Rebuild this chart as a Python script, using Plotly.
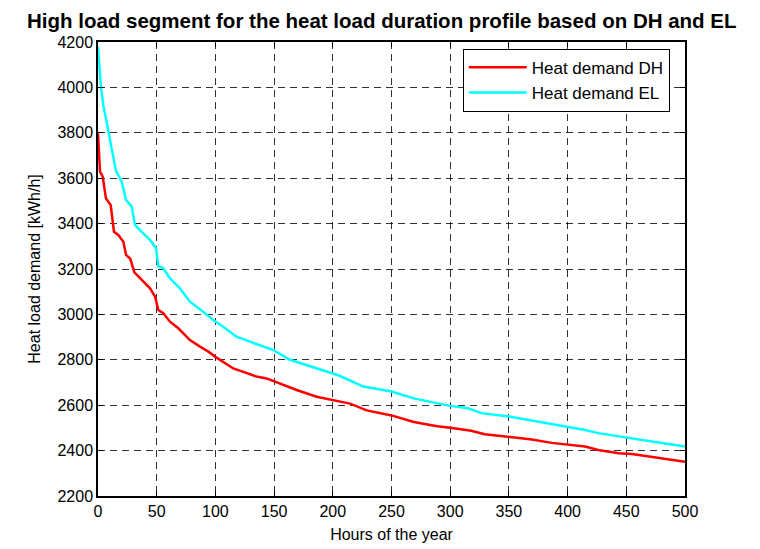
import plotly.graph_objects as go

# Heat demand DH (red)
dh_hours = [0, 1.7, 4, 6.8, 10.8, 13.6, 17.3, 21.6, 23.9, 27.5, 31, 36, 40, 44.3, 48.6, 51.4, 55.6, 61.3,
            68.4, 78.3, 86.9, 94, 99.7, 106.7, 115.2, 123.7, 135, 143.6, 157.8, 169.2, 186.2, 197.6,
            214.7, 228.9, 250, 269, 289, 300, 317.9, 329.3, 350, 369.5, 386.5, 400, 414.8, 426.2,
            443.3, 454.8, 471.7, 500]
dh_values = [3798, 3629, 3607, 3511, 3482, 3364, 3350, 3320, 3262, 3245, 3185, 3160, 3137, 3115, 3078, 3019, 3005, 2968,
             2939, 2887, 2858, 2836, 2814, 2792, 2762, 2747, 2726, 2718, 2689, 2667, 2637, 2625,
             2607, 2577, 2555, 2526, 2507, 2501, 2487, 2472, 2460, 2449, 2434, 2427, 2418, 2403,
             2388, 2385, 2373, 2351]

# Heat demand EL (cyan)
el_hours = [0, 2.5, 4.5, 8.8, 11.6, 15.3, 20.2, 23.9, 28.7, 31.5, 37.2, 44.3, 49.4, 51.4, 55.6, 61.3,
            69.8, 78.3, 89.6, 98.1, 106.6, 118, 129.4, 140.8, 149.3, 163.5, 177.7, 191.9, 204.7,
            226, 250, 269, 300, 315, 326.5, 350, 375, 400, 414.8, 426.2, 443.3, 449.8, 471.7, 500]
el_values = [4180, 4003, 3923, 3805, 3732, 3632, 3585, 3504, 3475, 3394, 3364, 3328, 3291, 3212, 3203, 3159,
             3115, 3056, 3012, 2975, 2946, 2902, 2880, 2858, 2843, 2800, 2777, 2755, 2732,
             2682, 2660, 2630, 2597, 2587, 2565, 2550, 2528, 2506, 2491, 2477, 2462, 2459, 2440, 2418]

x_ticks = [0, 50, 100, 150, 200, 250, 300, 350, 400, 450, 500]
y_ticks = [2200, 2400, 2600, 2800, 3000, 3200, 3400, 3600, 3800, 4000, 4200]

FONT = "Liberation Sans, Arial, sans-serif"

fig = go.Figure()
fig.add_trace(go.Scatter(x=dh_hours, y=dh_values, mode="lines", name="Heat demand DH",
                         line=dict(color="#ff0000", width=2.5)))
fig.add_trace(go.Scatter(x=el_hours, y=el_values, mode="lines", name="Heat demand EL",
                         line=dict(color="#00ffff", width=2.5)))

axis_common = dict(
    showline=True, linecolor="black", linewidth=1.5, mirror="ticks",
    ticks="inside", ticklen=5, tickcolor="black", tickwidth=1,
    showgrid=True, gridcolor="rgba(0,0,0,0.8)", griddash="7px,5px", gridwidth=1,
    zeroline=False, automargin=False,
    tickfont=dict(family=FONT, size=16, color="black"),
)

fig.update_xaxes(range=[0, 500], tickvals=x_ticks, ticktext=[str(v) for v in x_ticks],
                 title=dict(text="Hours of the year", font=dict(family=FONT, size=16, color="black"),
                            standoff=10), **axis_common)
fig.update_yaxes(range=[2200, 4200], tickvals=y_ticks, ticktext=[str(v) for v in y_ticks],
                 title=dict(text="Heat load demand [kWh/h]", font=dict(family=FONT, size=16, color="black"),
                            standoff=13), **axis_common)

fig.update_layout(
    width=752, height=541,
    paper_bgcolor="white", plot_bgcolor="white",
    margin=dict(l=90, r=75, t=34, b=53),
    title=dict(text="<b>High load segment for the heat load duration profile based on DH and EL</b>",
               x=0.497, xanchor="center", y=0.99, yanchor="top",
               font=dict(family=FONT, size=20.5, color="black")),
    legend=dict(x=0.974, y=0.985, xanchor="right", yanchor="top",
                bgcolor="white", bordercolor="black", borderwidth=1,
                font=dict(family=FONT, size=17, color="black"),
                itemwidth=58, tracegroupgap=0),
    showlegend=True,
)

fig.write_html("out.html")
